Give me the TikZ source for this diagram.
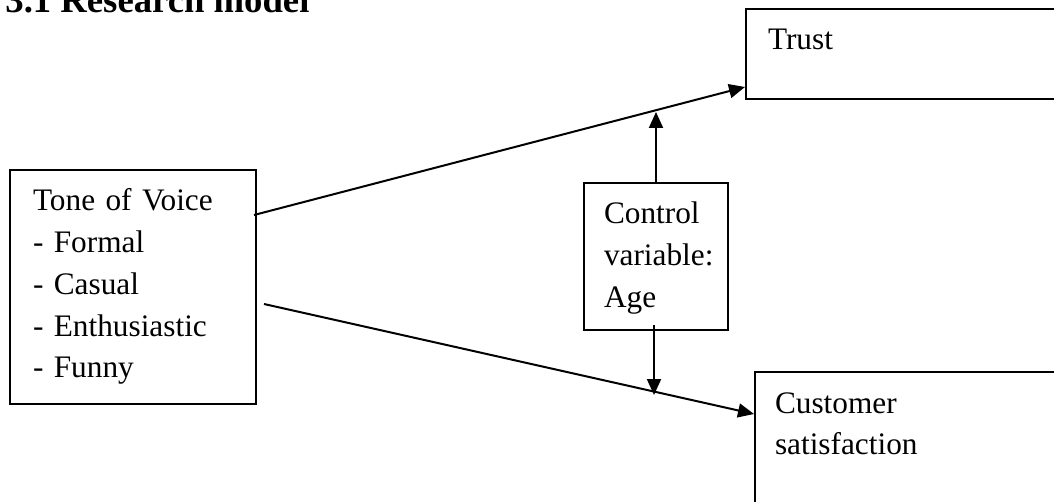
\documentclass[tikz,border=0pt]{standalone}
\usepackage{fontspec}
\setmainfont{Liberation Serif}
\usetikzlibrary{positioning,arrows.meta}

\tikzset{
  modelbox/.style={draw,line width=1pt,rectangle,anchor=north west,inner ysep=0pt,
    align=left,text height=20.5pt,font=\fontsize{15.65pt}{20.85pt}\selectfont},
  modelarrow/.style={-{Triangle[length=8pt,width=7pt]},line width=1pt},
}

\begin{document}
\begin{tikzpicture}[x=0.5pt,y=-0.5pt]
    \clip (0,0) rectangle (1054,502);
    \node[anchor=base west,inner sep=0pt,font=\bfseries\fontsize{18.35pt}{22pt}\selectfont] (title) at (5,13) {3.1 Research model};
    % constructs
    \node[modelbox,inner xsep=11.5pt,text width=100pt,text depth=96.5pt] (tone) at (9,169)
      {Tone of Voice\\- Formal\\- Casual\\- Enthusiastic\\- Funny};
    \node[modelbox,inner xsep=11pt,text width=155pt,text depth=24.5pt] (trust) at (745,8) {Trust};
    \node[modelbox,inner xsep=10pt,text width=52pt,text depth=53pt] (ctrl) at (583,182)
      {Control\\variable:\\Age};
    \node[modelbox,inner xsep=10pt,text width=155pt,text depth=75pt] (cs) at (754,371)
      {Customer\\satisfaction};
    % relations
    \draw[modelarrow] ([shift={(-3,46)}]tone.north east) -- ([shift={(0,-13)}]trust.south west);
    \draw[modelarrow] ([shift={(7,135)}]tone.north east) -- ([shift={(0,43)}]cs.north west);
    \draw[modelarrow] (ctrl.north) -- ++(0,-70);
    \draw[modelarrow] ([shift={(-2,-6)}]ctrl.south) -- ++(0,70);
\end{tikzpicture}
\end{document}
